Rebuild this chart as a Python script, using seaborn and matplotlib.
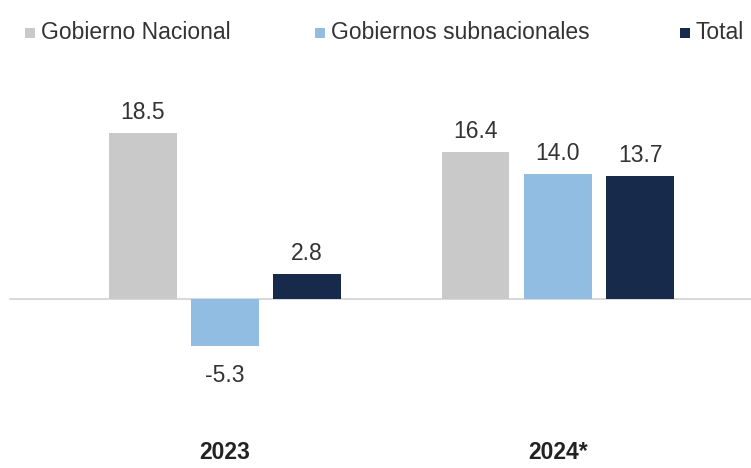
import numpy as np
import pandas as pd
import matplotlib
matplotlib.use("Agg")
import matplotlib.pyplot as plt
from matplotlib.patches import Rectangle
import seaborn as sns

years = ["2023", "2024*"]
series = ["Gobierno Nacional", "Gobiernos subnacionales", "Total"]
values_nacional = [18.5, 16.4]
values_subnac = [-5.3, 14.0]
values_total = [2.8, 13.7]
colors = {"Gobierno Nacional": "#c9c9c9",
          "Gobiernos subnacionales": "#90bde1",
          "Total": "#172a4c"}

df = pd.DataFrame({
    "year": years * 3,
    "serie": [s for s in series for _ in years],
    "value": values_nacional + values_subnac + values_total,
})

sns.set_style("white")
plt.rcParams["font.family"] = ["Liberation Sans", "DejaVu Sans"]
text_color = "#333333"

W, H = 751, 468
fig = plt.figure(figsize=(W / 100, H / 100), dpi=100)
ax = fig.add_axes([0, 0, 1, 1])

sns.barplot(data=df, x="year", y="value", hue="serie", hue_order=series,
            palette=colors, width=0.74, gap=0.18, saturation=1,
            linewidth=0, legend=False, ax=ax)

ax.set_xlim(-0.676, 1.58)
ax.set_ylim(-18.9, 33.4)
ax.axhline(0, xmin=0.013, xmax=1, color="#d6d6d6", lw=1.3, zorder=0)

# value labels
for cont in ax.containers:
    for bar in cont:
        h = bar.get_height()
        cx = bar.get_x() + bar.get_width() / 2
        off = 10 if h >= 0 else -26
        ax.annotate(f"{h:.1f}", (cx, h), xytext=(0, off), textcoords="offset points",
                    ha="center", va="baseline", fontsize=16.5, color=text_color)

# category labels
for i, y in enumerate(years):
    ax.text(i, -17.9, y, ha="center", va="baseline", fontsize=16.5,
            fontweight="bold", color="#222222")

for s in ax.spines.values():
    s.set_visible(False)
ax.set_xticks([])
ax.set_yticks([])
ax.set_xlabel("")
ax.set_ylabel("")

# legend row at the top (square marker + label)
legend_x = [25, 315, 680]
for s, x0 in zip(series, legend_x):
    fig.add_artist(Rectangle((x0 / W, 1 - 38 / H), 10 / W, 10 / H,
                             transform=fig.transFigure, facecolor=colors[s],
                             edgecolor="none"))
    fig.text((x0 + 16) / W, 1 - 39 / H, s, ha="left", va="baseline",
             fontsize=16.5, color=text_color)

fig.savefig("out.png", dpi=100)
